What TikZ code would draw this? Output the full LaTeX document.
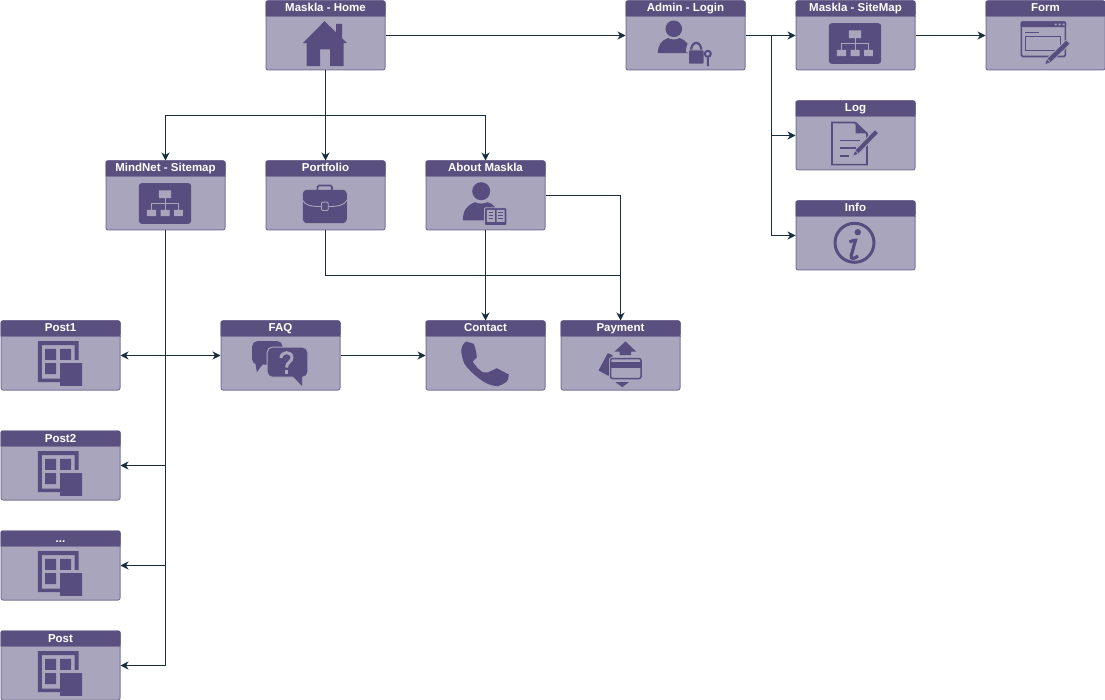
\documentclass[tikz,border=0pt]{standalone}
\usepackage{fontspec}
\setmainfont{Liberation Sans}
\usetikzlibrary{arrows.meta}
\definecolor{bodyc}{HTML}{A9A5BD}
\definecolor{edgec}{HTML}{7B7399}
\definecolor{hdrc}{HTML}{5A5080}
\definecolor{iconc}{HTML}{574E7F}
\definecolor{linkc}{HTML}{182E3E}
\tikzset{
  cardbody/.style={draw=edgec,fill=bodyc,line width=1pt,rounded corners=2pt,minimum width=119pt,minimum height=69pt,inner sep=0pt,outer sep=.5pt,anchor=north west},
  cardtitle/.style={text=white,font=\bfseries\fontsize{11.5}{12}\selectfont,inner sep=0pt,anchor=base},
  link/.style={draw=linkc,line width=1pt,-{Stealth[length=8pt,width=8pt,inset=2.5pt]}},
  plainlink/.style={draw=linkc,line width=1pt},
  twoway/.style={draw=linkc,line width=1pt,{Stealth[length=8pt,width=8pt,inset=2.5pt]}-{Stealth[length=8pt,width=8pt,inset=2.5pt]}},
  ic/.style={fill=iconc,draw=none},
  gap/.style={fill=bodyc,draw=none}
}
\newcommand{\cardbox}[5]{%
  \node[cardbody] (#1) at (#2,#3) {};
  \begin{scope}[shift={(#2,#3)}]
    \fill[hdrc,rounded corners=2pt] (0,16) -- (0,0) -- (120,0) -- (120,16) [sharp corners] -- cycle;
    \draw[edgec,line width=.6pt] (0,16) -- (120,16);
    \node[cardtitle] (#1-t) at (60,11.5) {#4};
    #5
  \end{scope}
}
\newcommand{\iconhome}{%
  \fill[ic] (59,20.7) -- (70.7,32) -- (70.7,23.3) -- (76.7,23.3) -- (76.7,38) -- (81.7,42.7) -- (78,42.7) -- (78,65.7) -- (64.7,65.7) -- (64.7,49) -- (54.7,49) -- (54.7,65.7) -- (41,65.7) -- (41,42.7) -- (37.3,42.7) -- cycle;
}
\newcommand{\iconmap}{%
  \fill[ic,rounded corners=3pt] (33.3,22.7) rectangle (85.7,63.3);
  \fill[bodyc] (53.3,30) rectangle (65.7,37.7) (41.3,49.3) rectangle (50.7,55.7) (55,49.3) rectangle (64,55.7) (68.7,49.3) rectangle (77.3,55.7);
  \draw[bodyc,line width=.9pt] (59.5,37.7) -- (59.5,49.3) (46,49.3) -- (46,43.3) -- (73,43.3) -- (73,49.3);
}
\newcommand{\iconadmin}{%
  \fill[ic] (48.3,28.3) circle[radius=8.3pt];
  \fill[ic] (32.3,52.7) .. controls (32.5,44) and (36,40) .. (42.5,37.5) .. controls (46,39.5) and (50.5,39.5) .. (54,37.5) .. controls (58,39) and (61,41) .. (63,45) -- (63,52.7) -- cycle;
  \draw[bodyc,line width=3pt] (70.7,42) .. controls (62,42) and (62,47) .. (62,52);
  \draw[iconc,line width=2.2pt] (65.5,51) .. controls (65.5,39.5) and (76,39.5) .. (76,51);
  \fill[ic,rounded corners=1pt,draw=bodyc,line width=.6pt] (63,49.5) rectangle (78.3,63.5);
  \draw[iconc,line width=2pt] (82.3,53.3) circle[radius=3pt];
  \fill[ic] (81.3,56) -- (83.4,56) -- (83.4,65.7) -- (82,66) -- (81.3,64) -- cycle;
}
\newcommand{\penshape}[5]{% tip x, tip y, length, angle, half width
  \begin{scope}[shift={(#1,#2)},rotate=#4]
    \fill[iconc,draw=bodyc,line width=.8pt] (0,0) -- (6,#5) -- (#3,#5) -- (#3,-#5) -- (6,-#5) -- cycle;
    \draw[bodyc,line width=.7pt] (6,-#5) -- (6,#5);
  \end{scope}
}
\newcommand{\iconform}{%
  \draw[iconc,line width=1.6pt,rounded corners=1.5pt] (35.8,21.8) rectangle (79.9,56);
  \fill[ic,rounded corners=1pt] (35,21) rectangle (80.7,26.7);
  \fill[bodyc] (69,23.2) rectangle (71,25) (73,23.2) rectangle (75,25) (77,23.2) rectangle (79,25);
  \draw[iconc,line width=1pt] (39.7,32.3) -- (53,32.3);
  \draw[iconc,line width=1.2pt] (40,36) rectangle (75,50);
  \penshape{59}{64.3}{33}{44}{2.8}
}
\newcommand{\iconlog}{%
  \draw[iconc,line width=1.6pt] (36.5,22) -- (59,22) -- (71.5,33) -- (71.5,64.2) -- (36.5,64.2) -- cycle;
  \fill[ic] (60,21) -- (72.3,33) -- (60,33) -- cycle;
  \draw[iconc,line width=1.4pt] (44,40) -- (64,40) (44,47.7) -- (60,47.7) (44,55.7) -- (53,55.7);
  \penshape{57}{56}{35}{46}{2.6}
}
\newcommand{\iconinfo}{%
  \draw[iconc,line width=3pt] (59,42.3) circle[radius=19.5pt];
  \fill[ic] (62.3,31.7) circle[radius=3.2pt];
  \draw[iconc,line width=3.2pt] (54,41.5) .. controls (56.5,40.2) and (59,39.5) .. (60,39.8) -- (55.7,55) .. controls (55,58.8) and (58.5,58.8) .. (62.5,55.5);
}
\newcommand{\iconcase}{%
  \draw[iconc,line width=1.6pt,rounded corners=1.5pt] (52,29.3) -- (52,25) -- (66.5,25) -- (66.5,29.3);
  \fill[ic,rounded corners=4pt] (37.3,29.3) rectangle (81.3,62.7);
  \draw[bodyc,line width=.9pt] (37.3,40) .. controls (40,45) and (45,46) .. (56,46) (62.7,46) .. controls (73,46) and (78,45) .. (81.3,40);
  \fill[ic,draw=bodyc,line width=.9pt,rounded corners=1pt] (56,41.7) rectangle (62.7,50);
}
\newcommand{\iconabout}{%
  \fill[ic] (55.7,30.7) circle[radius=9pt];
  \fill[ic] (37.3,60) .. controls (37.5,50) and (41,45) .. (49.5,41.7) .. controls (53,43.5) and (58,43.5) .. (62,41.7) .. controls (66,43) and (69,45) .. (71,49) -- (71,60) -- cycle;
  \fill[iconc,draw=bodyc,line width=.8pt,rounded corners=1pt] (59,47.3) rectangle (81.3,65);
  \fill[bodyc] (61.3,49.3) rectangle (69.3,61.5) (71,49.3) rectangle (79,61.5);
  \draw[iconc,line width=.8pt] (63,52) -- (67.5,52) (63,55) -- (67.5,55) (63,58) -- (67.5,58) (72.8,52) -- (77.3,52) (72.8,55) -- (77.3,55) (72.8,58) -- (77.3,58);
}
\newcommand{\iconpost}{%
  \fill[ic] (37.3,20.7) -- (78,20.7) -- (78,39.3) -- (74,39.3) -- (74,24.7) -- (41.3,24.7) -- (41.3,58) -- (59.7,58) -- (59.7,61.7) -- (37.3,61.7) -- cycle;
  \fill[ic] (44.7,28.3) rectangle (55.7,39.3) (59.7,28.3) rectangle (70.7,39.3) (44.7,42.7) rectangle (55.7,53.7) (59.7,42.7) rectangle (81.7,65.3);
}
\newcommand{\iconfaq}{%
  \fill[ic,rounded corners=5pt] (31.7,20.7) rectangle (62,44);
  \fill[ic] (34.5,40) -- (36.3,51.7) -- (45,40) -- cycle;
  \fill[ic,draw=bodyc,line width=1pt,rounded corners=5pt] (46.7,26.7) rectangle (87.3,56.7);
  \fill[ic] (72,55.5) -- (81.7,65.7) -- (81.7,55.5) -- cycle;
  \draw[bodyc,line width=3pt] (60.5,37.5) .. controls (60.5,30.5) and (71.5,30.5) .. (71.5,37) .. controls (71.5,41.5) and (66,41.5) .. (66,47);
  \fill[bodyc] (64.2,49.5) rectangle (67.9,53.3);
}
\newcommand{\iconphone}{%
  \fill[ic] (35.7,30) .. controls (36,26) and (38,22.5) .. (40.7,21) -- (48.3,23.3) .. controls (50,28) and (51,32) .. (51.3,36.7) -- (47.3,41) .. controls (50,45.5) and (53,49) .. (57.3,51.7) -- (62.3,52) -- (71.3,47.7) -- (83.3,54) .. controls (83.3,57) and (82.5,59.5) .. (81.3,61) .. controls (78,63.5) and (75,65) .. (72.3,65.7) .. controls (66,65.5) and (60,63) .. (54,58.3) .. controls (47,53) and (42,48) .. (39,43.3) .. controls (37,39) and (36,34) .. (35.7,30) -- cycle;
}
\newcommand{\iconpay}{%
  \fill[ic] (65,21) -- (75.7,31) -- (70.7,31) -- (70.7,34.5) -- (59,34.5) -- (59,31) -- (54,31) -- cycle;
  \fill[ic] (55,61.7) -- (68.3,61.7) -- (61.7,66.7) -- cycle;
  \fill[ic] (38,50) -- (47.3,32.7) -- (52,34.5) -- (50,55) -- (47.3,55) -- cycle;
  \fill[gap,rounded corners=2pt] (48.7,36.7) rectangle (81.7,59.3);
  \draw[iconc,line width=1.5pt,rounded corners=2pt] (50,38) rectangle (80.5,58);
  \fill[ic] (50,41.7) rectangle (80.5,47.3);
}
\begin{document}
\begin{tikzpicture}[x=1pt,y=-1pt]
\useasboundingbox (0,0) rectangle (1105,700);
\cardbox{home}{265.5}{.5}{Maskla - Home}{\iconhome}
\cardbox{admin}{625.5}{.5}{Admin - Login}{\iconadmin}
\cardbox{smap}{795.5}{.5}{Maskla - SiteMap}{\iconmap}
\cardbox{form}{985.5}{.5}{Form}{\iconform}
\cardbox{log}{795.5}{100.5}{Log}{\iconlog}
\cardbox{info}{795.5}{200.5}{Info}{\iconinfo}
\cardbox{mind}{105.5}{160.5}{MindNet - Sitemap}{\iconmap}
\cardbox{port}{265.5}{160.5}{Portfolio}{\iconcase}
\cardbox{about}{425.5}{160.5}{About Maskla}{\iconabout}
\cardbox{postone}{.5}{320.5}{Post1}{\iconpost}
\cardbox{faq}{220.5}{320.5}{FAQ}{\iconfaq}
\cardbox{contact}{425.5}{320.5}{Contact}{\iconphone}
\cardbox{pay}{560.5}{320.5}{Payment}{\iconpay}
\cardbox{posttwo}{.5}{430.5}{Post2}{\iconpost}
\cardbox{postdots}{.5}{530.5}{...}{\iconpost}
\cardbox{postlast}{.5}{630.5}{Post}{\iconpost}
% connectors
\draw[link] (home.east) -- (admin.west);
\coordinate (homefork) at (home.south |- 0,115.5);
\draw[link] (home.south) -- (port.north);
\draw[link] (homefork) -| (mind.north);
\draw[link] (homefork) -| (about.north);
\draw[link] (admin.east) -- (smap.west);
\coordinate (adminfork) at (771,35.5);
\draw[link] (adminfork) |- (log.west);
\draw[link] (adminfork) |- (info.west);
\draw[link] (smap.east) -- (form.west);
\draw[link] (mind.south) |- (postlast.east);
\draw[twoway] (postone.east) -- (faq.west);
\coordinate (mindtwo) at (mind.south |- posttwo.east);
\coordinate (mindthree) at (mind.south |- postdots.east);
\draw[link] (mindtwo) -- (posttwo.east);
\draw[link] (mindthree) -- (postdots.east);
\draw[link] (faq.east) -- (contact.west);
\draw[link] (about.south) -- (contact.north);
\draw[link] (about.east) -| (pay.north);
\coordinate (portfork) at (port.south |- 0,275.5);
\draw[plainlink] (port.south) |- (pay.north |- portfork);
\end{tikzpicture}
\end{document}
